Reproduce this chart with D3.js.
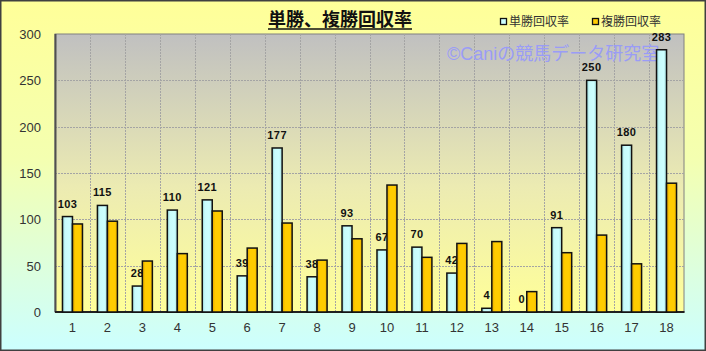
<!DOCTYPE html>
<html>
<head>
<meta charset="utf-8">
<script src="https://cdn.jsdelivr.net/npm/d3@7"></script>
<style>
  html, body { margin: 0; padding: 0; background: #fff; }
  svg { display: block; }
</style>
</head>
<body>
<div id="chart"></div>
<script>
// data
const races = ["1","2","3","4","5","6","7","8","9","10","11","12","13","14","15","16","17","18"];
const winRate = [103, 115, 28, 110, 121, 39, 177, 38, 93, 67, 70, 42, 4, 0, 91, 250, 180, 283];
const placeRate = [95, 98, 55, 63, 109, 69, 96, 56, 79, 137, 59, 74, 76, 22, 64, 83, 52, 139];
const yTicks = [0, 50, 100, 150, 200, 250, 300];
const seriesNames = ["単勝回収率", "複勝回収率"];

const W = 706, H = 351;
const plot = {left: 55, right: 684, top: 34, bottom: 312};
const jp = "'Noto Sans CJK JP', 'Noto Sans', sans-serif";
const num = "'Liberation Sans', Arial, " + jp;

const svg = d3.select("#chart").append("svg")
    .attr("width", W).attr("height", H);

const defs = svg.append("defs");

function vGrad(id, stops) {
    const g = defs.append("linearGradient").attr("id", id)
        .attr("x1", 0).attr("y1", 0).attr("x2", 0).attr("y2", 1);
    stops.forEach(s => g.append("stop").attr("offset", s[0]).attr("stop-color", s[1]));
}
function hGrad(id, stops) {
    const g = defs.append("linearGradient").attr("id", id)
        .attr("x1", 0).attr("y1", 0).attr("x2", 1).attr("y2", 0);
    stops.forEach(s => g.append("stop").attr("offset", s[0]).attr("stop-color", s[1]));
}

vGrad("bgGrad", [[0, "#ffff99"], [0.45, "#f4ffb0"], [1, "#ccffff"]]);
vGrad("plotGrad", [[0, "#c0c0c0"], [0.55, "#ecebb2"], [1, "#ffff99"]]);
hGrad("winGrad", [[0, "#8fcfd2"], [0.25, "#c8fbfb"], [0.7, "#ccffff"], [1, "#a8e0e0"]]);
hGrad("placeGrad", [[0, "#e0a400"], [0.3, "#ffcc00"], [0.75, "#ffcc00"], [1, "#e8b000"]]);

// chart area background + frame
svg.append("rect")
    .attr("x", 0.75).attr("y", 0.75)
    .attr("width", W - 1.5).attr("height", H - 1.5)
    .attr("fill", "url(#bgGrad)")
    .attr("stroke", "#404040").attr("stroke-width", 1.5);

// scales
const x = d3.scaleBand()
    .domain(races)
    .range([plot.left, plot.right]);

const xs = d3.scaleBand()
    .domain(["win", "place"])
    .range([x.bandwidth() / 2 - 10, x.bandwidth() / 2 + 10]);

const y = d3.scaleLinear()
    .domain([0, 300])
    .range([plot.bottom, plot.top]);

// plot area
svg.append("rect")
    .attr("x", plot.left).attr("y", plot.top)
    .attr("width", plot.right - plot.left).attr("height", plot.bottom - plot.top)
    .attr("fill", "url(#plotGrad)")
    .attr("stroke", "#808080").attr("stroke-width", 1);

const grid = svg.append("g")
    .attr("stroke", "#a4a4a4")
    .attr("stroke-width", 1)
    .attr("stroke-dasharray", "2,1");

grid.selectAll("line.h")
    .data(yTicks.filter(d => d > 0 && d < 300))
    .enter().append("line")
    .attr("x1", plot.left).attr("x2", plot.right)
    .attr("y1", d => Math.round(y(d)) + 0.5)
    .attr("y2", d => Math.round(y(d)) + 0.5);

grid.selectAll("line.v")
    .data(races.slice(1))
    .enter().append("line")
    .attr("x1", d => Math.round(x(d)) + 0.5)
    .attr("x2", d => Math.round(x(d)) + 0.5)
    .attr("y1", plot.top).attr("y2", plot.bottom);

// axes lines
svg.append("line")
    .attr("x1", plot.left + 0.5).attr("x2", plot.left + 0.5)
    .attr("y1", plot.top).attr("y2", plot.bottom)
    .attr("stroke", "#505050").attr("stroke-width", 2);
svg.append("line")
    .attr("x1", plot.left).attr("x2", plot.right + 0.5)
    .attr("y1", plot.bottom).attr("y2", plot.bottom)
    .attr("stroke", "#202020").attr("stroke-width", 2);

// y axis labels
const yAxis = svg.append("g")
    .attr("transform", `translate(${plot.left - 14},0)`)
    .call(d3.axisLeft(y).tickValues(yTicks).tickSize(0).tickPadding(0));
yAxis.select(".domain").remove();
yAxis.selectAll("text")
    .attr("font-family", num)
    .attr("font-size", 13)
    .attr("fill", "#333")
    .attr("dy", "0.35em");

// x axis labels
const xAxis = svg.append("g")
    .attr("transform", `translate(0,${plot.bottom})`)
    .call(d3.axisBottom(x).tickSize(0).tickPadding(11));
xAxis.select(".domain").remove();
xAxis.selectAll("text")
    .attr("font-family", num)
    .attr("font-size", 13)
    .attr("fill", "#333");

// watermark
svg.append("text")
    .attr("x", 447).attr("y", 60)
    .attr("font-family", num)
    .attr("font-size", 18)
    .attr("fill", "#9a9cf6")
    .text("©Caniの競馬データ研究室");

// win bars
svg.append("g").selectAll("rect")
    .data(winRate)
    .enter().append("rect")
    .attr("x", (d, i) => x(races[i]) + xs("win"))
    .attr("y", d => y(d))
    .attr("width", xs.bandwidth())
    .attr("height", d => y(0) - y(d))
    .attr("fill", "url(#winGrad)")
    .attr("stroke", "#111")
    .attr("stroke-width", 1.5);

// value labels (drawn under the place bars, like the original)
svg.append("g").selectAll("text")
    .data(winRate)
    .enter().append("text")
    .attr("x", (d, i) => x(races[i]) + xs("win") + xs.bandwidth() / 2)
    .attr("y", d => y(d) - 9)
    .attr("text-anchor", "middle")
    .attr("font-family", num)
    .attr("font-size", 11)
    .attr("font-weight", "bold")
    .attr("letter-spacing", 0.4)
    .attr("fill", "#111")
    .text(d => d);

// place bars
svg.append("g").selectAll("rect")
    .data(placeRate)
    .enter().append("rect")
    .attr("x", (d, i) => x(races[i]) + xs("place"))
    .attr("y", d => y(d))
    .attr("width", xs.bandwidth())
    .attr("height", d => y(0) - y(d))
    .attr("fill", "url(#placeGrad)")
    .attr("stroke", "#111")
    .attr("stroke-width", 1.5);

// title
const title = svg.append("text")
    .attr("x", 340).attr("y", 25.5)
    .attr("text-anchor", "middle")
    .attr("font-family", jp)
    .attr("font-size", 18)
    .attr("font-weight", "bold")
    .attr("fill", "#111")
    .text("単勝、複勝回収率");
const tw = title.node().getComputedTextLength();
svg.append("line")
    .attr("x1", 340 - tw / 2).attr("x2", 340 + tw / 2)
    .attr("y1", 29).attr("y2", 29)
    .attr("stroke", "#111").attr("stroke-width", 1.5);

// legend
const legend = svg.append("g")
    .selectAll("g")
    .data(seriesNames)
    .enter().append("g")
    .attr("transform", (d, i) => `translate(${[500, 592][i]},0)`);

legend.append("rect")
    .attr("x", 0.5).attr("y", 18.5)
    .attr("width", 6).attr("height", 6)
    .attr("fill", (d, i) => i === 0 ? "#ccffff" : "#ffcc00")
    .attr("stroke", "#111").attr("stroke-width", 1.3);

legend.append("text")
    .attr("x", 9).attr("y", 26)
    .attr("font-family", jp)
    .attr("font-size", 12)
    .attr("fill", "#333")
    .text(d => d);
</script>
</body>
</html>
